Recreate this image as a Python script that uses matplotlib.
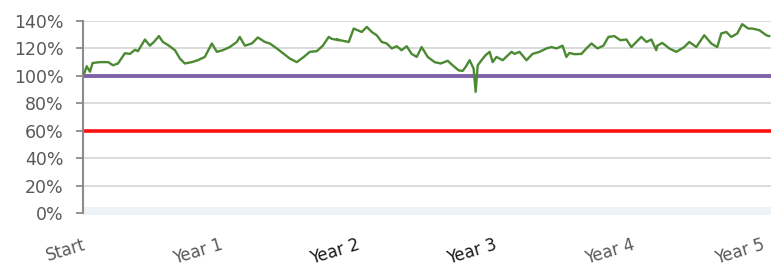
import numpy as np
import matplotlib.pyplot as plt
import matplotlib.transforms as mtransforms

# traced series: time in years, value in % of start
years = [0.009, 0.027, 0.051, 0.070, 0.124, 0.184, 0.219, 0.255, 0.306, 0.343,
         0.379, 0.401, 0.452, 0.488, 0.517, 0.554, 0.583, 0.627, 0.671, 0.707,
         0.743, 0.794, 0.838, 0.889, 0.940, 0.977, 1.020, 1.071, 1.122, 1.144,
         1.181, 1.232, 1.276, 1.327, 1.363, 1.414, 1.465, 1.509, 1.560, 1.611,
         1.655, 1.706, 1.750, 1.793, 1.815, 1.866, 1.851, 1.939, 1.975, 2.034,
         2.071, 2.107, 2.143, 2.180, 2.216, 2.253, 2.289, 2.325, 2.362, 2.398,
         2.435, 2.471, 2.515, 2.566, 2.610, 2.661, 2.697, 2.741, 2.770, 2.792,
         2.821, 2.850, 2.865, 2.880, 2.908, 2.937, 2.967, 2.989, 3.017, 3.062,
         3.127, 3.149, 3.185, 3.236, 3.280, 3.331, 3.382, 3.418, 3.455, 3.499,
         3.527, 3.549, 3.586, 3.637, 3.673, 3.710, 3.754, 3.797, 3.834, 3.877,
         3.921, 3.965, 4.001, 4.038, 4.074, 4.111, 4.147, 4.183, 4.190, 4.227,
         4.278, 4.329, 4.387, 4.424, 4.475, 4.533, 4.584, 4.628, 4.657, 4.694,
         4.730, 4.774, 4.810, 4.854, 4.883, 4.935, 4.986, 5.007]
values = [101.7, 107.0, 103.0, 109.4, 110.0, 110.0, 107.7, 109.0, 116.5, 116.0,
          119.0, 118.0, 126.5, 122.0, 124.7, 129.0, 124.7, 122.0, 118.7, 112.6,
          109.0, 110.0, 111.4, 113.8, 123.6, 117.5, 118.7, 121.0, 124.7, 128.4,
          122.0, 123.6, 128.0, 124.7, 123.6, 120.0, 116.0, 112.6, 110.0, 113.8,
          117.5, 118.0, 122.0, 128.4, 127.0, 126.0, 126.5, 124.7, 134.5, 132.0,
          135.7, 132.0, 129.6, 124.7, 123.6, 120.0, 121.6, 118.7, 121.6, 116.0,
          113.8, 121.0, 113.8, 110.0, 109.0, 111.0, 107.7, 104.0, 103.6, 106.5,
          111.4, 105.3, 88.3, 107.7, 111.4, 115.0, 117.5, 110.0, 113.8, 111.4,
          117.5, 116.0, 117.5, 111.4, 116.0, 117.5, 120.0, 121.0, 120.0, 122.0,
          113.8, 116.7, 115.8, 116.0, 120.0, 123.6, 120.0, 122.0, 128.4, 129.0,
          126.0, 126.5, 121.0, 124.7, 128.4, 124.7, 126.5, 118.7, 122.0, 124.0,
          120.0, 117.5, 121.0, 124.7, 121.0, 129.6, 123.6, 121.0, 130.9, 132.0,
          128.4, 130.9, 137.7, 134.5, 134.5, 133.3, 129.6, 129.0]

x_labels = ['Start', 'Year 1', 'Year 2', 'Year 3', 'Year 4', 'Year 5']
x_label_colors = ['#595959', '#595959', '#1a1a1a', '#1a1a1a', '#595959', '#595959']
y_ticks = [0, 20, 40, 60, 80, 100, 120, 140]
threshold_top = 100
threshold_low = 60

fig = plt.figure(figsize=(7.71, 2.73), dpi=100)
ax = fig.add_axes([83 / 771, 1 - 215 / 273, 1 - 83 / 771, (215 - 21) / 273])

# pale band along the zero line
ax.axhspan(-1.5, 4.5, color='#eef3f8', zorder=0, lw=0)
for t in y_ticks[1:]:
    ax.axhline(t, color='#d9d9d9', lw=1.3, zorder=1)

ax.axhline(threshold_top, color='#7e62a8', lw=2.8, zorder=2)
ax.axhline(threshold_low, color='#ff1010', lw=2.6, zorder=2)
ax.plot(years, values, color='#4b8a33', lw=1.7, zorder=3)

ax.set_xlim(0, 5.02)
ax.set_ylim(-1.5, 140)
ax.set_yticks(y_ticks)
ax.set_yticklabels([f'{t}%' for t in y_ticks], fontsize=12.5, color='#595959')
ax.set_xticks([])

# rotated year labels drawn as text so the last one can be nudged inside
for i, (lab, c) in enumerate(zip(x_labels, x_label_colors)):
    dx = -7 if i == len(x_labels) - 1 else 0
    off = mtransforms.ScaledTranslation(dx / 100, -21 / 100, fig.dpi_scale_trans)
    ax.text(i, 0, lab, transform=ax.get_xaxis_transform() + off,
            rotation=17, rotation_mode='anchor', ha='right', va='top',
            fontsize=12, color=c)

ax.tick_params(axis='y', length=5, color='#8c8c8c', width=1.3, pad=9)

for s in ['top', 'right', 'bottom']:
    ax.spines[s].set_visible(False)
ax.spines['left'].set_color('#8c8c8c')
ax.spines['left'].set_linewidth(1.5)
ax.spines['left'].set_bounds(0, 140)

fig.savefig('out.png', dpi=100)
